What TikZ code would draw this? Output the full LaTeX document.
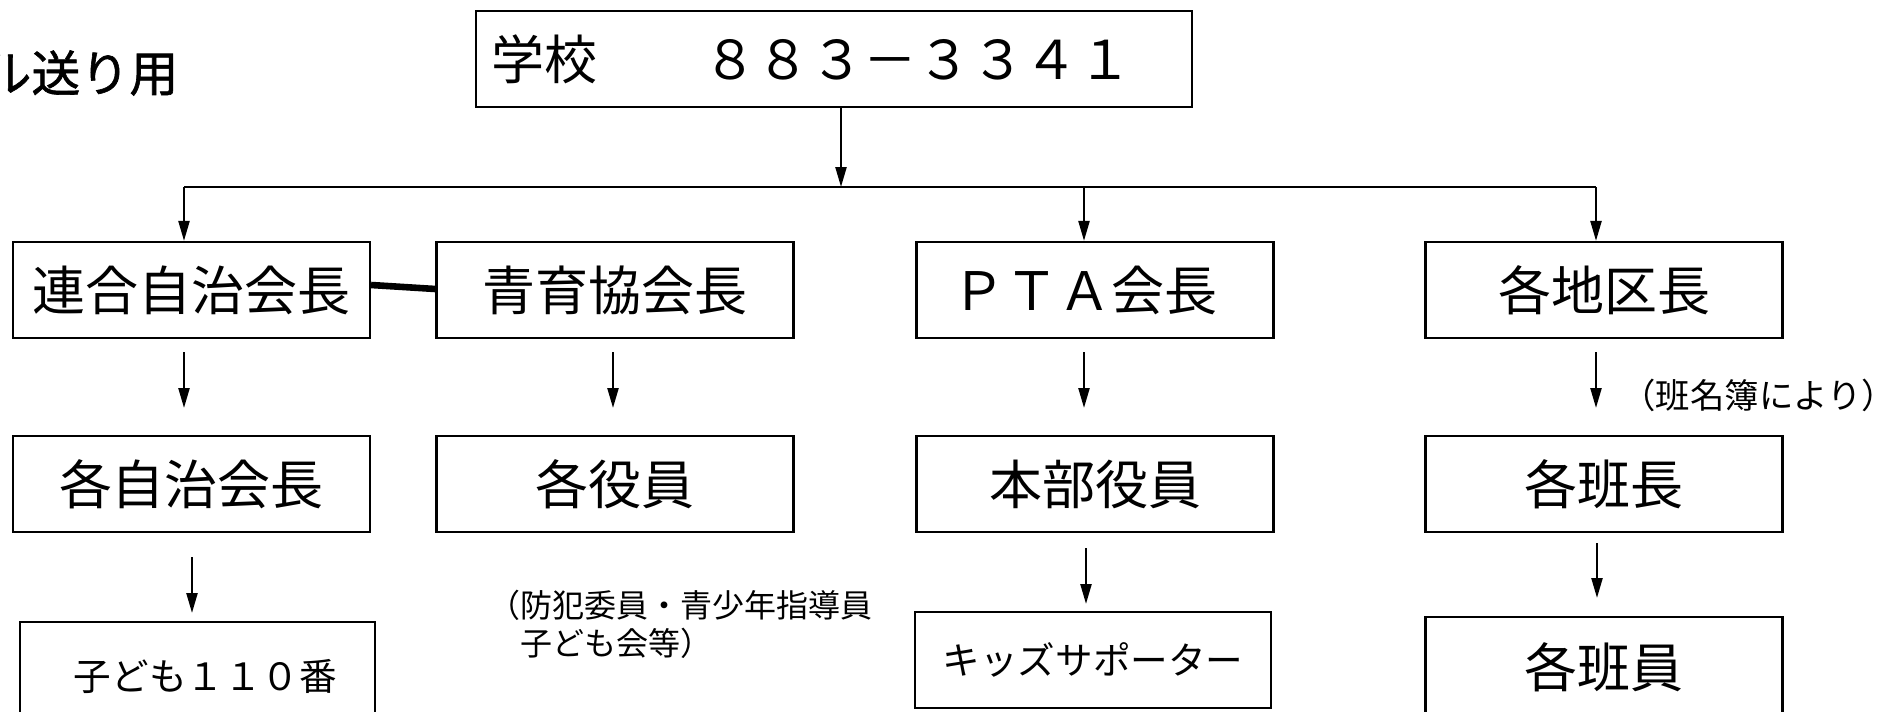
\documentclass[tikz,border=0pt]{standalone}
\usepackage{fontspec}
\setmainfont{Noto Sans CJK JP}
\newfontfamily\titlefont[FakeBold=1.2]{Noto Sans CJK JP}
\usetikzlibrary{arrows.meta}
\begin{document}
\begin{tikzpicture}[x=0.5pt,y=-0.5pt,
  box/.style={draw, line width=1.1pt, inner sep=0pt, minimum width=178.5pt, minimum height=48pt, font=\fontsize{26.5}{30}\selectfont},
  smallbox/.style={box, font=\fontsize{18.8}{22}\selectfont},
  arr/.style={line width=1.15pt, -{Triangle[length=10pt,width=5.5pt]}},
  conn/.style={line width=1.15pt},
  bar/.style={line width=3.3pt},
  note/.style={inner sep=0pt, anchor=west, align=left, font=\fontsize{16}{19}\selectfont}]
\useasboundingbox (0,0) rectangle (1881,712);
\clip (0,0) rectangle (1881,712);
\fill[white] (0,0) rectangle (1881,712);

% title (partly cut off at the left edge)
\node[inner sep=0pt, anchor=west, font=\titlefont\fontsize{24.5}{25}\selectfont] (title) at (-18,73) {ル送り用};

% school
\node[box, minimum width=358pt, text width=343pt, align=left, inner xsep=7.5pt] (school) at (834,59)
  {学校\hspace{53pt}{\fontsize{26.8}{30}\selectfont ８８３－３３４１}};

% row 1
\node[box] (lian) at (191.5,290) {連合自治会長};
\node[box] (seiiku) at (615,290) {青育協会長};
\node[box] (pta) at (1095,290) {\hspace{-10pt}ＰＴＡ会長};
\node[box] (chiku) at (1604,290) {各地区長};

% row 2
\node[box] (jichi) at (191.5,484) {各自治会長};
\node[box] (yakuin) at (615,484) {各役員};
\node[box] (honbu) at (1095,484) {本部役員};
\node[box] (hancho) at (1604,484) {各班長};

% row 3
\node[smallbox, minimum width=177.5pt, minimum height=54pt] (kodomo) at (197.5,676) {\hspace{8pt}子ども１１０番};
\node[smallbox, minimum width=178pt, minimum height=48pt] (kids) at (1093,660) {キッズサポーター\hspace{22pt}};
\node[box, minimum height=50pt] (hanin) at (1604,667) {各班員};

% notes
\node[note] (note1) at (488,624) {（防犯委員・青少年指導員\\　子ども会等）};
\node[note, font=\fontsize{17.2}{20}\selectfont] (note2) at (1621,395) {（班名簿により）};

% connectors
\coordinate (top) at (841,187);
\coordinate (hl) at (184,187);
\coordinate (hp) at (1084,187);
\coordinate (hr) at (1596,187);
\draw[arr] (school.south -| top) -- (top);
\draw[conn] (hl) -- (hr);
\draw[arr] (hl) -- (hl |- lian.north);
\draw[arr] (hp) -- (hp |- pta.north);
\draw[arr] (hr) -- (hr |- chiku.north);
\draw[bar] ([yshift=2.5pt]lian.east) -- ([yshift=0.5pt]seiiku.west);

\coordinate (d1a) at (184,352);  \coordinate (d1b) at (184,408);
\coordinate (d2a) at (613,352);  \coordinate (d2b) at (613,408);
\coordinate (d3a) at (1084,352); \coordinate (d3b) at (1084,408);
\coordinate (d4a) at (1596,352); \coordinate (d4b) at (1596,408);
\draw[arr] (d1a) -- (d1b);
\draw[arr] (d2a) -- (d2b);
\draw[arr] (d3a) -- (d3b);
\draw[arr] (d4a) -- (d4b);

\coordinate (e1a) at (192,557);  \coordinate (e1b) at (192,613);
\coordinate (e2a) at (1086,548); \coordinate (e2b) at (1086,604);
\coordinate (e3a) at (1597,543); \coordinate (e3b) at (1597,598);
\draw[arr] (e1a) -- (e1b);
\draw[arr] (e2a) -- (e2b);
\draw[arr] (e3a) -- (e3b);
\end{tikzpicture}
\end{document}
